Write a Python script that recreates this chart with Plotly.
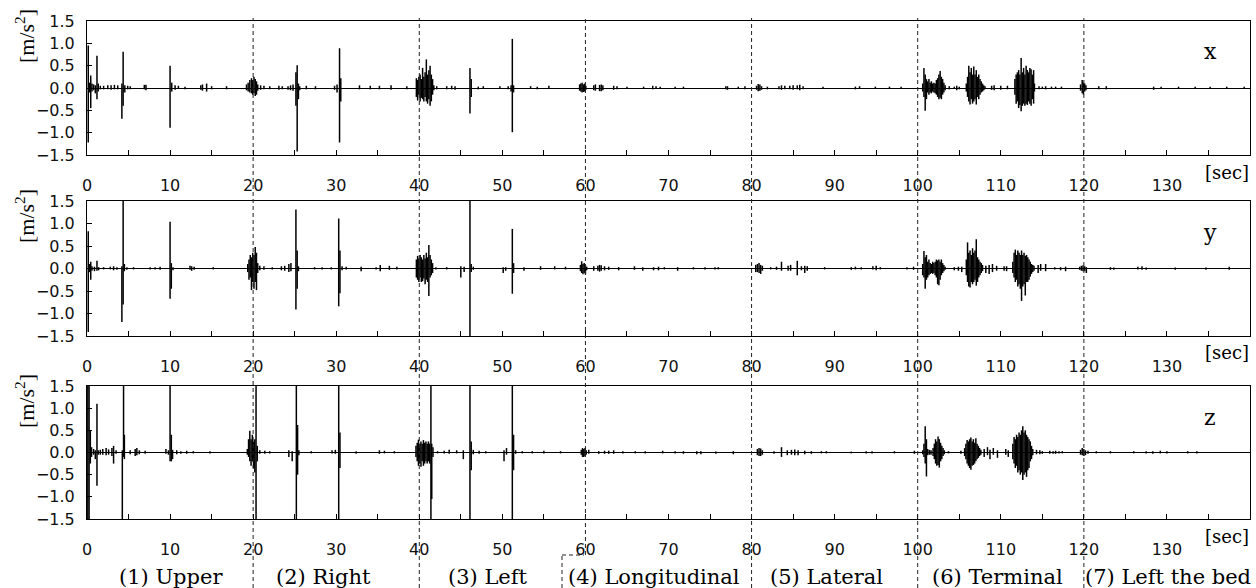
import plotly.graph_objects as go

# ---------------------------------------------------------------------------
# Acceleration events per axis: time [sec], positive peak, negative peak [m/s^2]
# ---------------------------------------------------------------------------
X_T = [0.15, 0.3, 0.45, 0.6, 0.8, 1.0, 1.2, 1.35, 1.6, 2.0, 2.5, 2.9, 3.3, 3.7,
       4.2, 4.35, 4.55, 4.9, 5.2, 6.9, 7.1, 10.0, 10.2, 10.6, 11.0, 11.8, 13.7, 13.9,
       14.4, 15.0, 16.8,
       19.2, 19.4, 19.6, 19.8, 19.95, 20.1, 20.25, 20.4, 20.55, 20.9, 21.3, 22.0,
       23.1, 23.5, 24.2, 24.5, 24.8, 25.15, 25.3, 25.45, 25.6, 26.4, 27.5, 29.8, 30.1,
       30.4, 30.55, 32.8, 34.1, 35.2, 36.6, 38.5,
       39.65, 39.8, 39.95, 40.1, 40.25, 40.4, 40.55, 40.7, 40.85, 41.0, 41.15, 41.3,
       41.45, 41.6, 41.75, 42.1, 43.3, 43.9, 44.3, 46.1, 46.25, 47.1, 47.7, 49.7,
       50.7, 51.05, 51.2, 51.35, 53.4, 54.2, 55.6,
       59.3, 59.45, 59.6, 59.75, 59.9, 60.05, 61.0, 61.2, 61.7, 61.9, 62.1, 63.4, 63.8,
       65.0, 67.0, 68.1, 68.5, 69.0, 70.8, 71.8, 76.9, 77.1, 78.4, 79.2,
       80.6, 80.8, 81.0, 81.2, 81.9, 83.3, 83.6, 84.0, 84.6, 85.0, 85.5, 85.8, 86.2,
       88.6, 92.5, 93.0, 94.9, 96.6, 98.0,
       100.6, 100.75, 100.9, 101.05, 101.2, 101.35, 101.5, 101.65, 101.8, 101.95,
       102.1, 102.25, 102.4, 102.55, 102.7, 102.85, 103.0, 103.15, 103.3, 103.8,
       104.4, 104.7, 105.0,
       105.85, 106.0, 106.15, 106.3, 106.45, 106.6, 106.75, 106.9, 107.05, 107.2,
       107.35, 107.5, 107.65, 107.8, 107.95, 108.1, 108.9, 109.2, 110.0, 110.8,
       111.7, 111.85, 112.0, 112.15, 112.3, 112.45, 112.6, 112.75, 112.9, 113.05,
       113.2, 113.35, 113.5, 113.65, 113.8, 113.95, 114.05, 114.6, 115.0, 115.4,
       116.1, 116.6, 117.3,
       119.6, 119.8, 119.95, 120.1, 120.25, 121.8, 122.7, 128.4, 129.3, 131.4, 133.4,
       135.2, 137.2, 139.3]
X_HI = [0.95, 0.12, 0.28, 0.1, 0.08, 0.06, 0.72, 0.1, 0.05, 0.05, 0.06, 0.06, 0.07, 0.06,
        0.1, 0.81, 0.06, 0.05, 0.04, 0.07, 0.07, 0.5, 0.12, 0.06, 0.05, 0.03, 0.06, 0.08,
        0.1, 0.04, 0.04,
        0.08, 0.12, 0.18, 0.22, 0.18, 0.25, 0.2, 0.15, 0.08, 0.06, 0.05, 0.04,
        0.05, 0.04, 0.04, 0.06, 0.08, 0.35, 0.51, 0.1, 0.04, 0.05, 0.04, 0.05, 0.08,
        0.89, 0.22, 0.06, 0.05, 0.05, 0.06, 0.04,
        0.22, 0.18, 0.25, 0.3, 0.2, 0.45, 0.25, 0.35, 0.64, 0.3, 0.4, 0.5,
        0.3, 0.2, 0.06, 0.04, 0.04, 0.05, 0.04, 0.45, 0.2, 0.03, 0.04, 0.04,
        0.04, 0.06, 1.1, 0.06, 0.04, 0.03, 0.05,
        0.08, 0.1, 0.12, 0.08, 0.1, 0.05, 0.06, 0.08, 0.07, 0.08, 0.06, 0.05, 0.04,
        0.03, 0.03, 0.05, 0.04, 0.03, 0.03, 0.03, 0.04, 0.04, 0.03, 0.04,
        0.05, 0.09, 0.08, 0.04, 0.03, 0.04, 0.06, 0.05, 0.05, 0.06, 0.06, 0.07, 0.04,
        0.03, 0.03, 0.04, 0.03, 0.03, 0.03,
        0.1, 0.45, 0.3, 0.2, 0.15, 0.2, 0.12, 0.15, 0.1, 0.12,
        0.1, 0.18, 0.22, 0.3, 0.38, 0.25, 0.2, 0.12, 0.06, 0.04,
        0.03, 0.05, 0.03,
        0.1, 0.25, 0.5, 0.35, 0.45, 0.3, 0.48, 0.3, 0.4, 0.25,
        0.3, 0.2, 0.15, 0.1, 0.06, 0.04, 0.05, 0.06, 0.05, 0.05,
        0.2, 0.3, 0.35, 0.4, 0.3, 0.67, 0.35, 0.45, 0.3, 0.5,
        0.4, 0.35, 0.45, 0.42, 0.3, 0.4, 0.1, 0.04, 0.03, 0.04,
        0.03, 0.03, 0.03,
        0.08, 0.18, 0.12, 0.1, 0.06, 0.04, 0.04, 0.03, 0.03, 0.03, 0.03,
        0.03, 0.03, 0.03]
X_LO = [-1.22, -0.1, -0.45, -0.08, -0.05, -0.12, -0.25, -0.08, -0.03, -0.03, -0.03, -0.04, -0.03, -0.03,
        -0.69, -0.4, -0.1, -0.03, -0.03, -0.03, -0.05, -0.89, -0.08, -0.04, -0.02, -0.03, -0.04, -0.06,
        -0.08, -0.03, -0.03,
        -0.05, -0.08, -0.1, -0.12, -0.15, -0.12, -0.18, -0.15, -0.06, -0.04, -0.03, -0.03,
        -0.04, -0.03, -0.04, -0.05, -0.06, -0.4, -1.42, -0.25, -0.05, -0.03, -0.03, -0.04, -0.1,
        -1.22, -0.3, -0.03, -0.03, -0.03, -0.04, -0.03,
        -0.2, -0.28, -0.15, -0.3, -0.22, -0.25, -0.3, -0.2, -0.3, -0.35, -0.25, -0.4,
        -0.3, -0.15, -0.05, -0.03, -0.03, -0.03, -0.04, -0.57, -0.2, -0.03, -0.02, -0.02,
        -0.03, -0.08, -0.99, -0.1, -0.02, -0.03, -0.02,
        -0.06, -0.08, -0.1, -0.09, -0.08, -0.04, -0.05, -0.06, -0.07, -0.07, -0.05, -0.04, -0.03,
        -0.02, -0.02, -0.03, -0.02, -0.02, -0.02, -0.02, -0.03, -0.04, -0.02, -0.03,
        -0.04, -0.07, -0.06, -0.04, -0.03, -0.03, -0.04, -0.03, -0.03, -0.04, -0.03, -0.05, -0.03,
        -0.02, -0.03, -0.02, -0.02, -0.02, -0.02,
        -0.08, -0.2, -0.51, -0.25, -0.1, -0.15, -0.1, -0.12, -0.08, -0.1,
        -0.12, -0.15, -0.2, -0.25, -0.22, -0.25, -0.15, -0.1, -0.05, -0.03,
        -0.02, -0.05, -0.03,
        -0.08, -0.2, -0.3, -0.37, -0.25, -0.35, -0.3, -0.25, -0.37, -0.2,
        -0.25, -0.15, -0.1, -0.08, -0.05, -0.03, -0.04, -0.05, -0.04, -0.03,
        -0.15, -0.35, -0.3, -0.45, -0.38, -0.52, -0.4, -0.35, -0.4, -0.35,
        -0.38, -0.3, -0.35, -0.4, -0.25, -0.35, -0.08, -0.03, -0.02, -0.03,
        -0.02, -0.02, -0.02,
        -0.06, -0.12, -0.15, -0.08, -0.05, -0.03, -0.03, -0.04, -0.02, -0.02, -0.02,
        -0.02, -0.02, -0.02]

Y_T = [0.15, 0.3, 0.45, 0.6, 0.9, 1.2, 1.4, 2.0, 2.8, 3.2, 3.6, 4.2, 4.35, 4.5, 4.8,
       5.6, 7.6, 8.2, 8.8, 10.0, 10.15, 10.35, 12.4, 12.6, 12.9, 15.2,
       19.35, 19.5, 19.65, 19.8, 19.95, 20.1, 20.25, 20.4, 20.55, 20.8, 21.3, 22.3,
       23.4, 23.8, 24.3, 24.55, 25.15, 25.3, 25.45, 27.4, 28.3, 29.4, 30.3, 30.45,
       30.7, 31.2, 33.0, 34.8, 35.3, 36.4, 37.3,
       39.65, 39.8, 39.95, 40.1, 40.25, 40.4, 40.55, 40.7, 40.85, 41.0, 41.15, 41.3,
       41.45, 41.6, 42.0, 43.3, 45.0, 45.4, 46.1, 46.25, 46.5, 50.1, 50.4, 51.2, 51.35,
       52.6, 54.6, 56.3, 57.6,
       59.4, 59.55, 59.7, 59.85, 60.0, 60.15, 61.0, 61.5, 61.7, 61.9, 62.3, 62.8,
       64.0, 65.9, 66.9, 68.2, 68.8, 69.5, 71.1, 73.0, 74.4, 75.6, 76.0,
       80.5, 80.7, 80.9, 81.1, 81.3, 82.3, 83.0, 83.6, 84.4, 84.7, 85.5, 86.0, 86.4,
       86.7, 88.8, 92.0, 92.5, 93.2, 94.6, 95.0, 95.5, 98.7, 99.5,
       100.6, 100.75, 100.9, 101.05, 101.2, 101.35, 101.5, 101.65, 101.8, 101.95,
       102.1, 102.25, 102.4, 102.55, 102.7, 102.85, 103.0, 103.15, 103.3, 104.4,
       104.9, 105.3,
       105.85, 106.0, 106.15, 106.3, 106.45, 106.6, 106.75, 106.9, 107.05, 107.2,
       107.35, 107.5, 107.65, 107.8, 108.2, 108.6, 109.0, 109.5, 110.4, 110.7,
       111.45, 111.6, 111.75, 111.9, 112.05, 112.2, 112.35, 112.5, 112.65, 112.8,
       112.95, 113.1, 113.25, 113.4, 113.55, 113.7, 113.85, 114.0, 114.5, 114.8,
       115.4, 116.5, 117.2, 117.8,
       119.5, 119.7, 119.9, 120.1, 120.3, 123.2, 123.6, 126.5, 127.0, 127.5, 131.0,
       134.7, 137.5]
Y_HI = [0.83, 0.1, 0.15, 0.05, 0.04, 0.17, 0.03, 0.03, 0.04, 0.05, 0.03, 0.05, 1.5, 0.1, 0.03,
        0.03, 0.03, 0.03, 0.04, 1.04, 0.12, 0.03, 0.06, 0.05, 0.04, 0.03,
        0.1, 0.2, 0.3, 0.25, 0.35, 0.3, 0.48, 0.35, 0.12, 0.06, 0.05, 0.03,
        0.05, 0.06, 0.1, 0.12, 1.31, 0.4, 0.05, 0.03, 0.03, 0.03, 1.11, 0.4,
        0.05, 0.04, 0.04, 0.03, 0.08, 0.06, 0.04,
        0.2, 0.28, 0.22, 0.3, 0.25, 0.2, 0.3, 0.22, 0.35, 0.25, 0.52, 0.3,
        0.2, 0.12, 0.03, 0.03, 0.05, 0.04, 1.5, 0.1, 0.04, 0.03, 0.03, 0.88, 0.12,
        0.03, 0.05, 0.05, 0.04,
        0.08, 0.16, 0.1, 0.12, 0.08, 0.04, 0.05, 0.06, 0.08, 0.07, 0.05, 0.04,
        0.03, 0.05, 0.03, 0.03, 0.04, 0.03, 0.03, 0.03, 0.03, 0.03, 0.03,
        0.08, 0.1, 0.12, 0.08, 0.06, 0.03, 0.04, 0.15, 0.06, 0.08, 0.17, 0.05, 0.06,
        0.05, 0.03, 0.03, 0.04, 0.03, 0.05, 0.06, 0.03, 0.03, 0.04,
        0.1, 0.39, 0.25, 0.3, 0.15, 0.2, 0.12, 0.1, 0.15, 0.12,
        0.15, 0.2, 0.18, 0.2, 0.15, 0.2, 0.12, 0.08, 0.04, 0.03,
        0.04, 0.04,
        0.2, 0.58, 0.35, 0.4, 0.3, 0.45, 0.35, 0.4, 0.65, 0.25,
        0.2, 0.15, 0.12, 0.08, 0.06, 0.08, 0.1, 0.06, 0.05, 0.05,
        0.15, 0.35, 0.42, 0.3, 0.4, 0.35, 0.3, 0.4, 0.3, 0.35,
        0.28, 0.3, 0.25, 0.2, 0.15, 0.1, 0.08, 0.06, 0.08, 0.1,
        0.1, 0.03, 0.03, 0.04,
        0.04, 0.06, 0.07, 0.05, 0.03, 0.03, 0.02, 0.04, 0.05, 0.02, 0.02,
        0.02, 0.04]
Y_LO = [-1.41, -0.08, -0.25, -0.05, -0.06, -0.05, -0.04, -0.02, -0.02, -0.04, -0.03, -1.19, -0.8, -0.06, -0.03,
        -0.02, -0.02, -0.02, -0.03, -0.67, -0.45, -0.04, -0.03, -0.05, -0.03, -0.02,
        -0.08, -0.25, -0.2, -0.48, -0.3, -0.45, -0.3, -0.48, -0.1, -0.04, -0.03, -0.02,
        -0.04, -0.05, -0.08, -0.06, -0.91, -0.45, -0.06, -0.02, -0.02, -0.02, -0.84, -0.55,
        -0.04, -0.02, -0.06, -0.02, -0.06, -0.03, -0.02,
        -0.2, -0.25, -0.3, -0.2, -0.3, -0.28, -0.22, -0.35, -0.25, -0.3, -0.61, -0.2,
        -0.15, -0.1, -0.02, -0.02, -0.2, -0.08, -1.5, -0.08, -0.03, -0.1, -0.05, -0.56, -0.1,
        -0.05, -0.03, -0.02, -0.02,
        -0.06, -0.1, -0.13, -0.1, -0.13, -0.04, -0.05, -0.05, -0.07, -0.05, -0.04, -0.03,
        -0.04, -0.03, -0.05, -0.04, -0.04, -0.02, -0.05, -0.02, -0.02, -0.02, -0.02,
        -0.08, -0.08, -0.1, -0.12, -0.05, -0.02, -0.03, -0.05, -0.05, -0.05, -0.15, -0.04, -0.1,
        -0.05, -0.02, -0.03, -0.02, -0.02, -0.02, -0.04, -0.02, -0.02, -0.03,
        -0.15, -0.2, -0.45, -0.25, -0.2, -0.15, -0.12, -0.1, -0.12, -0.1,
        -0.15, -0.2, -0.35, -0.37, -0.25, -0.15, -0.1, -0.06, -0.03, -0.04,
        -0.05, -0.08,
        -0.15, -0.3, -0.4, -0.42, -0.3, -0.35, -0.3, -0.25, -0.38, -0.3,
        -0.2, -0.15, -0.1, -0.06, -0.1, -0.12, -0.08, -0.05, -0.05, -0.06,
        -0.1, -0.2, -0.3, -0.25, -0.4, -0.35, -0.45, -0.72, -0.4, -0.35,
        -0.6, -0.3, -0.3, -0.25, -0.18, -0.12, -0.08, -0.05, -0.1, -0.05,
        -0.06, -0.02, -0.04, -0.06,
        -0.03, -0.05, -0.06, -0.06, -0.1, -0.03, -0.03, -0.02, -0.03, -0.03, -0.03,
        -0.03, -0.03]

Z_T = [0.1, 0.25, 0.4, 0.55, 0.8, 1.0, 1.2, 1.35, 1.6, 1.9, 2.3, 2.6, 3.0, 3.2, 3.5,
       4.25, 4.4, 4.5, 5.2, 5.8, 6.0, 6.3, 7.0, 9.5, 9.8, 10.0, 10.15, 10.3, 10.8,
       11.3, 12.0, 12.8, 14.8,
       19.3, 19.45, 19.6, 19.75, 19.9, 20.05, 20.2, 20.35, 20.5, 20.8, 21.4, 22.0,
       24.3, 24.7, 25.2, 25.35, 25.5, 27.0, 29.5, 29.9, 30.3, 30.45, 32.4, 35.2,
       35.8, 37.0,
       39.6, 39.75, 39.9, 40.05, 40.2, 40.35, 40.5, 40.65, 40.8, 40.95, 41.1, 41.25,
       41.4, 41.5, 41.65, 42.2, 43.0, 43.6, 44.5, 45.3, 46.1, 46.25, 46.5, 47.2, 48.0,
       50.2, 50.5, 51.2, 51.35, 51.6, 52.4, 53.6, 55.0, 57.0,
       59.5, 59.65, 59.8, 59.95, 60.1, 60.4, 61.6, 62.3, 62.8, 63.4, 64.5, 66.0,
       67.2, 69.3, 70.8, 71.8, 73.4, 73.9, 75.7, 77.8,
       80.7, 80.9, 81.1, 81.3, 82.7, 83.6, 84.3, 84.8, 85.2, 85.6, 86.4, 87.2, 88.4,
       89.0, 92.0, 93.8, 94.5, 97.2, 99.6,
       100.6, 100.75, 100.9, 101.05, 101.2, 101.4, 101.6, 101.85, 102.0, 102.15,
       102.3, 102.45, 102.6, 102.75, 102.9, 103.05, 103.2, 103.7, 105.2,
       105.65, 105.8, 105.95, 106.1, 106.25, 106.4, 106.55, 106.7, 106.85, 107.0,
       107.15, 107.3, 107.45, 107.6, 108.0, 108.4, 108.7, 109.1, 109.6, 110.6, 110.9,
       111.45, 111.6, 111.75, 111.9, 112.05, 112.2, 112.35, 112.5, 112.65, 112.8,
       112.95, 113.1, 113.25, 113.4, 113.55, 113.7, 113.85, 114.3, 114.7, 115.0,
       115.9, 116.3, 116.6, 117.0, 117.4,
       119.6, 119.8, 120.0, 120.2, 120.5, 121.5, 123.2, 126.0, 127.5, 128.3, 129.2,
       130.0, 132.5, 133.6]
Z_HI = [1.5, 1.5, 0.5, 0.12, 0.08, 0.05, 1.1, 0.05, 0.06, 0.08, 0.1, 0.07, 0.1, 0.15, 0.05,
        0.05, 1.5, 0.4, 0.05, 0.08, 0.1, 0.05, 0.04, 0.08, 0.05, 1.5, 0.4, 0.06, 0.05,
        0.03, 0.04, 0.03, 0.03,
        0.08, 0.3, 0.49, 0.3, 0.4, 0.25, 0.3, 1.5, 0.15, 0.05, 0.04, 0.03,
        0.05, 0.03, 1.5, 0.62, 0.05, 0.03, 0.05, 0.06, 1.5, 0.45, 0.03, 0.05,
        0.04, 0.03,
        0.15, 0.22, 0.29, 0.2, 0.25, 0.2, 0.28, 0.22, 0.25, 0.2, 0.25, 0.2,
        1.5, 0.2, 0.12, 0.03, 0.04, 0.06, 0.05, 0.05, 1.5, 0.25, 0.06, 0.04, 0.03,
        0.05, 0.1, 1.5, 0.4, 0.05, 0.03, 0.03, 0.04, 0.03,
        0.06, 0.1, 0.08, 0.1, 0.05, 0.06, 0.03, 0.04, 0.04, 0.05, 0.03, 0.03,
        0.03, 0.04, 0.03, 0.03, 0.03, 0.03, 0.02, 0.03,
        0.08, 0.1, 0.09, 0.05, 0.03, 0.12, 0.05, 0.06, 0.07, 0.05, 0.04, 0.03, 0.03,
        0.03, 0.02, 0.03, 0.03, 0.03, 0.04,
        0.05, 0.2, 0.59, 0.3, 0.08, 0.06, 0.05, 0.1, 0.2, 0.3,
        0.25, 0.36, 0.3, 0.22, 0.15, 0.1, 0.05, 0.03, 0.04,
        0.1, 0.2, 0.28, 0.25, 0.3, 0.34, 0.25, 0.3, 0.22, 0.32,
        0.2, 0.15, 0.1, 0.06, 0.08, 0.12, 0.06, 0.1, 0.05, 0.08, 0.05,
        0.2, 0.35, 0.3, 0.4, 0.35, 0.45, 0.4, 0.5, 0.59, 0.45,
        0.5, 0.4, 0.35, 0.3, 0.25, 0.15, 0.08, 0.06, 0.05, 0.03,
        0.04, 0.03, 0.04, 0.03, 0.03,
        0.06, 0.1, 0.08, 0.05, 0.04, 0.03, 0.03, 0.03, 0.03, 0.03, 0.04,
        0.03, 0.03, 0.03]
Z_LO = [-1.5, -1.5, -0.25, -0.1, -0.05, -0.15, -0.75, -0.05, -0.05, -0.05, -0.06, -0.05, -0.08, -0.25, -0.03,
        -1.5, -0.1, -0.15, -0.04, -0.08, -0.06, -0.04, -0.03, -0.03, -0.05, -0.2, -0.2, -0.15, -0.04,
        -0.03, -0.03, -0.02, -0.02,
        -0.05, -0.1, -0.2, -0.3, -0.2, -0.35, -0.45, -1.5, -0.2, -0.03, -0.03, -0.02,
        -0.1, -0.2, -1.5, -0.5, -0.06, -0.02, -0.02, -0.03, -1.5, -0.35, -0.03, -0.03,
        -0.02, -0.02,
        -0.1, -0.2, -0.3, -0.25, -0.32, -0.2, -0.3, -0.25, -0.2, -0.25, -0.2, -0.25,
        -1.5, -1.05, -0.1, -0.02, -0.02, -0.03, -0.02, -0.15, -1.5, -0.4, -0.04, -0.03, -0.02,
        -0.2, -0.05, -1.5, -0.4, -0.03, -0.02, -0.02, -0.02, -0.02,
        -0.05, -0.1, -0.1, -0.08, -0.05, -0.03, -0.03, -0.03, -0.03, -0.03, -0.02, -0.02,
        -0.02, -0.02, -0.02, -0.03, -0.04, -0.04, -0.03, -0.04,
        -0.06, -0.08, -0.08, -0.05, -0.03, -0.1, -0.06, -0.05, -0.06, -0.06, -0.04, -0.03, -0.02,
        -0.02, -0.02, -0.02, -0.02, -0.02, -0.03,
        -0.04, -0.1, -0.25, -0.54, -0.06, -0.05, -0.05, -0.08, -0.15, -0.25,
        -0.3, -0.28, -0.34, -0.2, -0.15, -0.08, -0.04, -0.02, -0.03,
        -0.08, -0.15, -0.25, -0.3, -0.35, -0.39, -0.3, -0.28, -0.25, -0.2,
        -0.15, -0.12, -0.08, -0.05, -0.1, -0.06, -0.15, -0.05, -0.12, -0.05, -0.1,
        -0.15, -0.25, -0.35, -0.3, -0.45, -0.4, -0.5, -0.45, -0.62, -0.5,
        -0.45, -0.55, -0.4, -0.35, -0.2, -0.15, -0.06, -0.04, -0.04, -0.03,
        -0.03, -0.03, -0.03, -0.02, -0.02,
        -0.05, -0.06, -0.08, -0.06, -0.03, -0.02, -0.02, -0.02, -0.02, -0.03, -0.02,
        -0.02, -0.02, -0.02]

CHANNELS = ["x", "y", "z"]
X_TICKS = [0, 10, 20, 30, 40, 50, 60, 70, 80, 90, 100, 110, 120, 130]
Y_TICKS = [-1.5, -1.0, -0.5, 0.0, 0.5, 1.0, 1.5]
Y_TICK_TEXT = ["\u22121.5", "\u22121.0", "\u22120.5", "0.0", "0.5", "1.0", "1.5"]
BOUNDARIES = [20, 40, 60, 80, 100, 120]
PHASES = ["(1) Upper", "(2) Right", "(3) Left", "(4) Longitudinal",
          "(5) Lateral", "(6) Terminal", "(7) Left the bed"]

SERIF = "DejaVu Serif"
SANS = "DejaVu Sans"


def segments(t, hi, lo):
    """Vertical strokes from the negative to the positive peak of each event."""
    xs, ys = [], []
    for ti, h, l in zip(t, hi, lo):
        xs += [ti, ti, None]
        ys += [l, h, None]
    return xs, ys


data = [(X_T, X_HI, X_LO), (Y_T, Y_HI, Y_LO), (Z_T, Z_HI, Z_LO)]

W, H = 1256, 588
left_px, right_px = 87, 1250
panels_px = [(21, 155), (201, 336), (386, 519)]   # top/bottom edges of each panel

fig = go.Figure()
layout = dict(
    width=W, height=H, autosize=False,
    margin=dict(l=0, r=0, t=0, b=0, pad=0, autoexpand=False),
    paper_bgcolor="white", plot_bgcolor="white",
    showlegend=False,
)

# tick every 5 s, labelled every 10 s
x_tickvals = list(range(0, 140, 5))
x_ticktext = [str(v) if v in X_TICKS else "" for v in x_tickvals]

for i, (name, (t, hi, lo)) in enumerate(zip(CHANNELS, data)):
    xs, ys = segments(t, hi, lo)
    suffix = "" if i == 0 else str(i + 1)
    fig.add_trace(go.Scatter(
        x=xs, y=ys, mode="lines",
        line=dict(color="black", width=1.5),
        xaxis="x" + suffix, yaxis="y" + suffix,
        hoverinfo="skip",
    ))
    top_px, bot_px = panels_px[i]
    layout["xaxis" + suffix] = dict(
        domain=[left_px / W, right_px / W],
        anchor="y" + suffix,
        range=[0, 140], automargin=False,
        tickmode="array", tickvals=x_tickvals, ticktext=x_ticktext,
        ticks="inside", ticklen=5, tickwidth=1, tickcolor="black",
        showline=True, linecolor="black", linewidth=1, mirror=True,
        showgrid=False, zeroline=False,
        tickfont=dict(family=SANS, size=16, color="#111"),
        ticklabelstandoff=16,
    )
    layout["yaxis" + suffix] = dict(
        domain=[1 - bot_px / H, 1 - top_px / H],
        anchor="x" + suffix,
        range=[-1.5, 1.5], automargin=False,
        tickmode="array", tickvals=Y_TICKS, ticktext=Y_TICK_TEXT,
        ticks="inside", ticklen=5, tickwidth=1, tickcolor="black",
        showline=True, linecolor="black", linewidth=1, mirror=True,
        showgrid=False,
        zeroline=True, zerolinecolor="black", zerolinewidth=1.4,
        tickfont=dict(family=SANS, size=16, color="#111"),
        ticklabelstandoff=8,
    )

annotations = []
for i, name in enumerate(CHANNELS):
    top_px, bot_px = panels_px[i]
    # unit label
    annotations.append(dict(
        text="[m/s<sup>2</sup>]", textangle=-90,
        x=25 / W, y=1 - (top_px + 15) / H, xref="paper", yref="paper",
        xanchor="center", yanchor="middle", showarrow=False,
        font=dict(family="Liberation Serif", size=22, color="black"),
    ))
    # channel name
    annotations.append(dict(
        text=name, x=1210 / W, y=1 - (top_px + 31) / H,
        xref="paper", yref="paper", xanchor="center", yanchor="middle",
        showarrow=False, font=dict(family=SERIF, size=22, color="black"),
    ))
    # time unit
    annotations.append(dict(
        text="[sec]", x=1251 / W, y=1 - (bot_px + 17) / H,
        xref="paper", yref="paper", xanchor="right", yanchor="middle",
        showarrow=False, font=dict(family=SERIF, size=18, color="black"),
    ))

phase_centres_px = [171, 323, 488, 654, 826, 997, 1168]
for label, cx in zip(PHASES, phase_centres_px):
    annotations.append(dict(
        text=label, x=cx / W, y=1 - 577 / H,
        xref="paper", yref="paper", xanchor="center", yanchor="middle",
        showarrow=False, font=dict(family=SERIF, size=21, color="black"),
    ))

layout["annotations"] = annotations

# phase boundaries
dash = dict(color="#222", width=1, dash="4px,3px")
shapes = []
for b in BOUNDARIES:
    y_end = 1 - 555 / H if b == 60 else 0
    shapes.append(dict(type="line", xref="x", yref="paper",
                       x0=b, x1=b, y0=y_end, y1=1 - 18 / H,
                       line=dash, layer="above"))
# offset boundary for the (4) label
shapes.append(dict(type="line", xref="paper", yref="paper",
                   x0=562 / W, x1=584 / W, y0=1 - 555 / H, y1=1 - 555 / H,
                   line=dash, layer="above"))
shapes.append(dict(type="line", xref="paper", yref="paper",
                   x0=562 / W, x1=562 / W, y0=0, y1=1 - 555 / H,
                   line=dash, layer="above"))
layout["shapes"] = shapes

fig.update_layout(**layout)
fig.write_html("out.html")
